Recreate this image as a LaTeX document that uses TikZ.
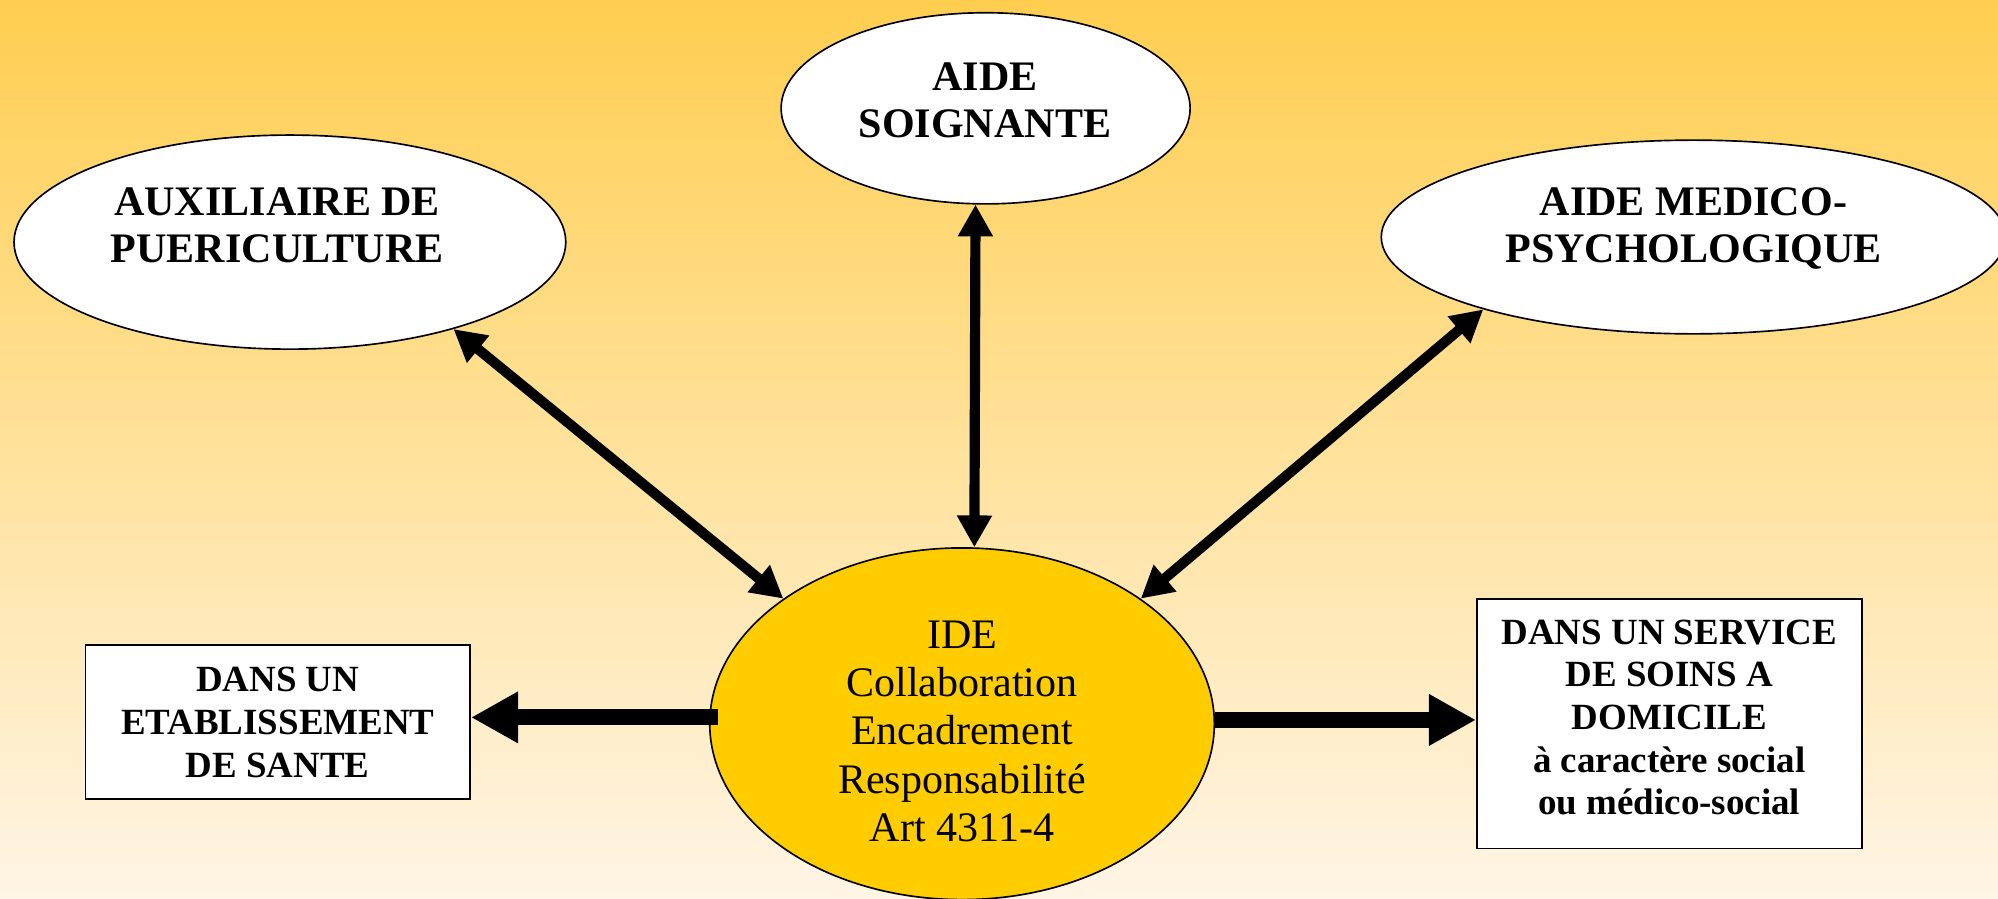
\documentclass[tikz,border=0pt]{standalone}
\usepackage{fontspec}
\setmainfont{Liberation Serif}
\usetikzlibrary{arrows.meta,shapes.geometric}
\definecolor{bgtop}{RGB}{255,206,80}
\definecolor{bgbot}{RGB}{255,245,230}
\definecolor{idefill}{RGB}{255,204,0}
\tikzset{
  oval/.style={ellipse, draw=black, line width=1.3pt, fill=white, inner sep=0pt},
  box/.style={rectangle, draw=black, line width=1.3pt, fill=white, inner sep=0pt},
  bigb/.style={align=center, font=\fontsize{33}{37}\selectfont\bfseries, inner sep=0pt},
  bigr/.style={align=center, font=\fontsize{33}{38}\selectfont, inner sep=0pt},
  smallb/.style={align=center, font=\fontsize{29}{33.5}\selectfont\bfseries, inner sep=0pt},
  link/.style={line width=8pt, {Triangle[length=25pt,width=26pt]}-{Triangle[length=25pt,width=26pt]}},
  flow/.style={line width=12.5pt, -{Triangle[length=37pt,width=38pt]}},
}
\begin{document}
\begin{tikzpicture}[x=1pt,y=-1pt]
\fill[top color=bgtop,bottom color=bgbot] (0,0) rectangle (1568,705.5);
\useasboundingbox (0,0) rectangle (1568,705.5);
% shapes
\node[oval, minimum width=433pt, minimum height=168pt] (aux) at (227.5,190) {};
\node[oval, minimum width=321pt, minimum height=150pt] (aides) at (773.5,85) {};
\node[oval, minimum width=490pt, minimum height=152pt] (amp) at (1329,186) {};
\node[oval, fill=idefill, minimum width=396pt, minimum height=276pt] (ide) at (755,568) {};
\node[box, minimum width=302pt, minimum height=121pt] (lbox) at (218,566.5) {};
\node[box, minimum width=302pt, minimum height=196pt] (rbox) at (1310,568) {};
% texts
\node[bigb] (auxt) at (217.5,177) {AUXILIAIRE DE\\PUERICULTURE};
\node[bigb] (aidest) at (773,79) {AIDE\\SOIGNANTE};
\node[bigb] (ampt) at (1329,179) {AIDE MEDICO-\\PSYCHOLOGIQUE};
\node[bigr] (idet) at (755,574) {IDE\\Collaboration\\Encadrement\\Responsabilité\\Art 4311-4};
\node[smallb] (lboxt) at (218,567) {DANS UN\\ETABLISSEMENT\\DE SANTE};
\node[smallb] (rboxt) at (1310,563) {DANS UN SERVICE\\DE SOINS A\\DOMICILE\\à caractère social\\ou médico-social};
% connectors
\draw[link] (aux.-28) -- (ide.145);
\draw[link] (aides.-96) -- (ide.86);
\draw[link] (amp.199) -- (ide.35);
\coordinate (lstart) at ([xshift=7pt]ide.west);
\coordinate (lend) at ([yshift=3.5pt]lbox.east);
\draw[flow] (lstart |- lend) -- (lend);
\coordinate (rend) at ([yshift=3pt]rbox.west);
\draw[flow] (ide.east |- rend) -- (rend);
\end{tikzpicture}
\end{document}
